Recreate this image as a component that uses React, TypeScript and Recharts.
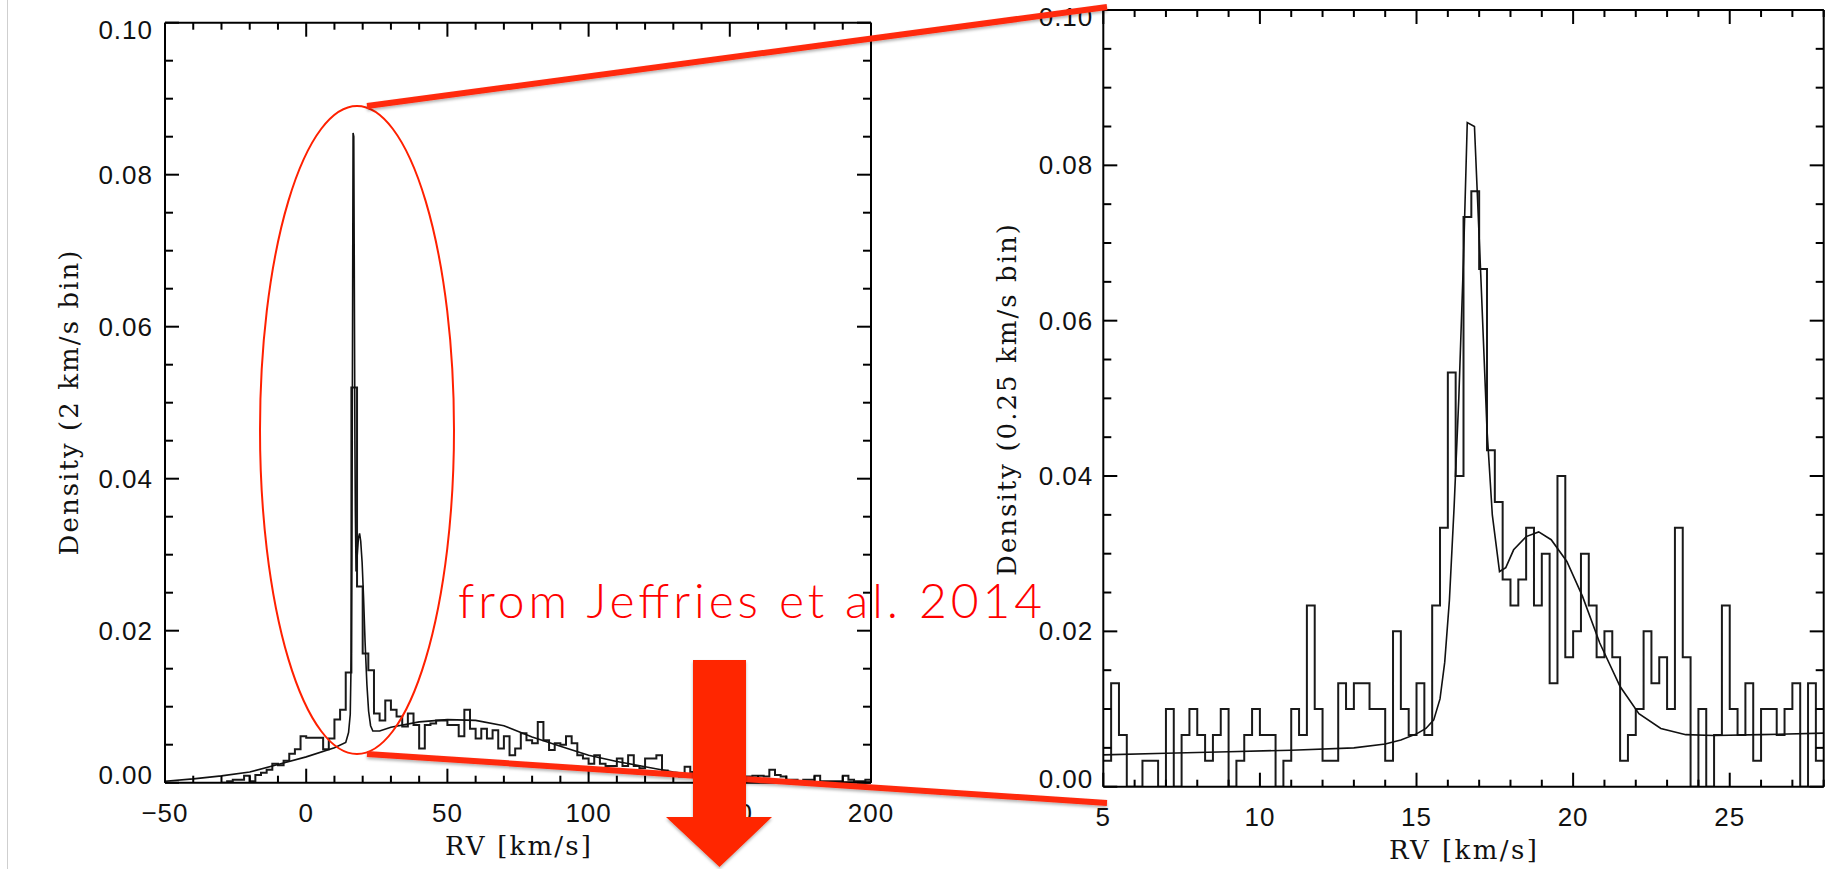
import React from "react"
import { ComposedChart, Line, XAxis, YAxis } from "recharts"

// ---- left panel: 2 km/s bins, first bin starts at -30 km/s ----
const LEFT_HIST_START = -30
const LEFT_BIN = 2
const LEFT_HIST = [
  0, 0.0002, 0.0004, 0.0004, 0.0009, 0.0002, 0.001, 0.0013, 0.0017, 0.0025,
  0.0023, 0.0029, 0.0038, 0.0044, 0.0061, 0.0059, 0.0059, 0.0059, 0.0044, 0.0058,
  0.0083, 0.0096, 0.0145, 0.052, 0.0258, 0.017, 0.0148, 0.0091, 0.0082, 0.0108,
  0.0096, 0.0087, 0.0074, 0.0091, 0.0076, 0.0045, 0.0076, 0.0078, 0.0082, 0.0082,
  0.0076, 0.0076, 0.0061, 0.0096, 0.0071, 0.0058, 0.0071, 0.0058, 0.0069, 0.0045,
  0.0061, 0.0036, 0.0045, 0.0065, 0.0056, 0.0052, 0.008, 0.0056, 0.0043, 0.0052,
  0.005, 0.0061, 0.0052, 0.0036, 0.0032, 0.0025, 0.0036, 0.0025, 0.0022, 0.0022,
  0.0032, 0.0022, 0.0036, 0.0022, 0.0019, 0.0032, 0.0032, 0.0036, 0.0016, 0.001,
  0.001, 0.0008, 0.0021, 0.0014, 0.001, 0.0008, 0.0012, 0.0006, 0.001, 0.0008,
  0.0006, 0.0008, 0.0006, 0.0008, 0.0009, 0.0009, 0.0008, 0.0017, 0.001, 0.0008,
  0.0004, 0.0004, 0.0002, 0.0004, 0.0004, 0.0009, 0.0002, 0.0002, 0.0002, 0.0002,
  0.0009, 0.0004, 0.0002, 0.0002, 0.0004,
]
const LEFT_MODEL_X = [
  -50, -40, -30, -20, -10, 0, 10, 14, 15, 15.6, 15.95, 16.15, 16.3, 16.45, 16.6, 16.85,
  17.05, 17.25, 17.4, 17.65, 17.9, 18.5, 18.9, 19.3, 19.8, 20.3, 20.85, 21.5, 22.1, 22.8,
  23.6, 26, 30, 40, 50, 60, 70, 80, 90, 100, 110, 120, 130, 140, 150, 160, 170, 185, 200,
]
const LEFT_MODEL_Y = [
  0.0002, 0.0005, 0.0009, 0.0014, 0.0024, 0.0034, 0.0046, 0.0053, 0.0066, 0.009, 0.017,
  0.03, 0.045, 0.065, 0.0855, 0.085, 0.065, 0.045, 0.036, 0.0278, 0.029, 0.0322, 0.0328,
  0.0318, 0.029, 0.0245, 0.0185, 0.0129, 0.0094, 0.0075, 0.0068, 0.0068, 0.0073, 0.008,
  0.0083, 0.0082, 0.0075, 0.006, 0.0048, 0.0036, 0.0028, 0.0021, 0.0014, 0.0009, 0.0005,
  0.0003, 0.0002, 0.0001, 0.0001,
]

// ---- right panel: 0.25 km/s bins from 5 km/s, counts in units of 1/300 ----
const RIGHT_HIST_START = 5
const RIGHT_BIN = 0.25
const RIGHT_UNIT = 1 / 300
const RIGHT_COUNTS = [
  1, 4, 2, 0, 0, 1, 1, 0, 3, 0,
  2, 3, 2, 1, 2, 3, 0, 1, 2, 3,
  2, 2, 0, 1, 3, 2, 7, 3, 1, 1,
  4, 3, 4, 4, 3, 3, 1, 6, 3, 2,
  4, 2, 7, 10, 16, 12, 22, 23, 20, 13,
  11, 8, 7, 8, 10, 7, 9, 4, 12, 5,
  6, 9, 7, 5, 6, 5, 1, 2, 3, 6,
  4, 5, 3, 10, 5, 0, 3, 0, 2, 7,
  3, 2, 4, 1, 3, 3, 2, 3, 4, 0,
  4, 1,
]
const RIGHT_MODEL_X = [
  5, 7, 9, 11, 13, 14, 14.5, 15, 15.3, 15.55, 15.75, 15.9, 16.05, 16.2, 16.35, 16.5, 16.62,
  16.85, 17.05, 17.25, 17.42, 17.65, 17.85, 18.1, 18.5, 18.9, 19.3, 19.8, 20.3, 20.85, 21.5,
  22.1, 22.8, 23.6, 24.5, 26, 28,
]
const RIGHT_MODEL_Y = [
  0.0041, 0.0043, 0.0045, 0.0047, 0.005, 0.0055, 0.006, 0.0068, 0.0075, 0.0086, 0.0113,
  0.016, 0.024, 0.036, 0.05, 0.068, 0.0855, 0.085, 0.066, 0.046, 0.035, 0.0277, 0.0282,
  0.0305, 0.0322, 0.0328, 0.0318, 0.029, 0.0245, 0.0185, 0.0129, 0.0094, 0.0075, 0.0067,
  0.0066, 0.0067, 0.0069,
]

const range = (a: number, b: number, s: number) => {
  const out: number[] = []
  const n = Math.round((b - a) / s)
  for (let i = 0; i <= n; i++) out.push(Math.round((a + i * s) * 1e6) / 1e6)
  return out
}

const LEFT_X_TICKS = range(-50, 200, 10)
const RIGHT_X_TICKS = range(5, 28, 1)
const Y_TICKS = range(0, 0.1, 0.005)

const leftXMajor = (v: number) => v % 50 === 0
const rightXMajor = (v: number) => v % 5 === 0
const yMajor = (v: number) => Math.abs(v / 0.02 - Math.round(v / 0.02)) < 1e-6

const steps = (start: number, bin: number, vals: number[]) => {
  const pts = vals.map((y, i) => ({ x: start + i * bin, y }))
  pts.push({ x: start + vals.length * bin, y: vals[vals.length - 1] })
  return pts
}
const zip = (xs: number[], ys: number[]) => xs.map((x, i) => ({ x, y: ys[i] }))

const leftHist = steps(LEFT_HIST_START, LEFT_BIN, LEFT_HIST)
const leftModel = zip(LEFT_MODEL_X, LEFT_MODEL_Y)
const rightHist = steps(RIGHT_HIST_START, RIGHT_BIN, RIGHT_COUNTS.map((c) => c * RIGHT_UNIT))
const rightModel = zip(RIGHT_MODEL_X, RIGHT_MODEL_Y)

const TICK_FONT = "'Liberation Sans', Arial, sans-serif"
const TITLE_FONT = "'DejaVu Serif', serif"
const AXIS_LINE = { stroke: "#000", strokeWidth: 2 }

const fmtX = (v: number) => (v < 0 ? "\u2212" + Math.abs(v) : String(v))

// axes are 1px thick boxes (recharts skips 0-sized axes); ticks drawn inward by hand
const xTick = (side: "top" | "bottom", isMajor: (v: number) => boolean) => (p: any) => {
  const v = p.payload.value
  const major = isMajor(v)
  const len = major ? 14 : 7
  const dir = side === "bottom" ? -1 : 1
  return (
    <g>
      <line x1={p.x} x2={p.x} y1={p.y} y2={p.y + dir * len} stroke="#000" strokeWidth={2} />
      {side === "bottom" && major && (
        <text x={p.x} y={p.y + 30} textAnchor="middle" dominantBaseline="central"
          fontFamily={TICK_FONT} fontSize={26} fill="#111" letterSpacing={1}>
          {fmtX(v)}
        </text>
      )}
    </g>
  )
}

const yTick = (side: "left" | "right", gap: number) => (p: any) => {
  const v = p.payload.value
  const major = yMajor(v)
  const len = major ? 14 : 8
  const dir = side === "left" ? 1 : -1
  const dy = v === 0 ? -8 : v >= 0.1 - 1e-9 ? 7 : 0
  return (
    <g>
      <line x1={p.x} x2={p.x + dir * len} y1={p.y} y2={p.y} stroke="#000" strokeWidth={2} />
      {side === "left" && major && (
        <text x={p.x - gap} y={p.y + dy} textAnchor="end" dominantBaseline="central"
          fontFamily={TICK_FONT} fontSize={26} fill="#111" letterSpacing={1}>
          {v.toFixed(2)}
        </text>
      )}
    </g>
  )
}

function Panel(props: {
  width: number
  height: number
  margin: { top: number; right: number; bottom: number; left: number }
  xDomain: [number, number]
  xTicks: number[]
  xMajor: (v: number) => boolean
  hist: { x: number; y: number }[]
  model: { x: number; y: number }[]
  labelGap: number
}) {
  const { width, height, margin, xDomain, xTicks, xMajor, hist, model, labelGap } = props
  const xCommon = {
    dataKey: "x",
    type: "number" as const,
    domain: xDomain,
    ticks: xTicks,
    interval: 0 as const,
    height: 1,
    tickSize: 0,
    tickMargin: 0,
    tickLine: false,
    axisLine: AXIS_LINE,
    allowDataOverflow: true,
  }
  const yCommon = {
    type: "number" as const,
    domain: [0, 0.1] as [number, number],
    ticks: Y_TICKS,
    interval: 0 as const,
    width: 1,
    tickSize: 0,
    tickMargin: 0,
    tickLine: false,
    axisLine: AXIS_LINE,
    allowDataOverflow: true,
  }
  const m = { top: margin.top - 1, right: margin.right - 1, bottom: margin.bottom - 1, left: margin.left - 1 }
  return (
    <ComposedChart width={width} height={height} margin={m}>
      <XAxis xAxisId="b" orientation="bottom" {...xCommon} tick={xTick("bottom", xMajor)} />
      <XAxis xAxisId="t" orientation="top" {...xCommon} tick={xTick("top", xMajor)} />
      <YAxis yAxisId="l" orientation="left" {...yCommon} tick={yTick("left", labelGap)} />
      <YAxis yAxisId="r" orientation="right" {...yCommon} tick={yTick("right", labelGap)} />
      <Line xAxisId="b" yAxisId="l" data={hist} dataKey="y" type="stepAfter" stroke="#1a1a1a"
        strokeWidth={2} dot={false} activeDot={false} isAnimationActive={false} />
      <Line xAxisId="b" yAxisId="l" data={model} dataKey="y" type="linear" stroke="#111"
        strokeWidth={1.6} dot={false} activeDot={false} isAnimationActive={false} />
    </ComposedChart>
  )
}

export default function App() {
  return (
    <div style={{ position: "absolute", left: 0, top: 0, width: 1827, height: 869, background: "#fff", overflow: "hidden" }}>
      <div style={{ position: "absolute", left: 7, top: 0, width: 1, height: 869, background: "#cfcfcf" }} />
      <div style={{ position: "absolute", left: 0, top: 0 }}>
        <Panel width={900} height={869}
          margin={{ top: 22.7, right: 29, bottom: 86.3, left: 165 }}
          xDomain={[-50, 200]} xTicks={LEFT_X_TICKS} xMajor={leftXMajor}
          hist={leftHist} model={leftModel} labelGap={12} />
      </div>
      <div style={{ position: "absolute", left: 940, top: 0 }}>
        <Panel width={887} height={869}
          margin={{ top: 10, right: 3.3, bottom: 82.3, left: 163.3 }}
          xDomain={[5, 28]} xTicks={RIGHT_X_TICKS} xMajor={rightXMajor}
          hist={rightHist} model={rightModel} labelGap={10} />
      </div>
      <svg width={1827} height={869} style={{ position: "absolute", left: 0, top: 0, pointerEvents: "none" }}>
        <defs>
          <filter id="shadow" x="-10%" y="-50%" width="120%" height="200%">
            <feDropShadow dx="0" dy="2" stdDeviation="1.6" floodColor="#000" floodOpacity="0.3" />
          </filter>
        </defs>
        <g fontFamily={TITLE_FONT} fontSize={26} fill="#111">
          <text x={518} y={846} textAnchor="middle" dominantBaseline="central" textLength={146}>RV [km/s]</text>
          <text x={1463} y={850} textAnchor="middle" dominantBaseline="central" textLength={148}>RV [km/s]</text>
          <text x={69} y={403} textAnchor="middle" dominantBaseline="central" textLength={305}
            transform="rotate(-90 69 403)">Density (2 km/s bin)</text>
          <text x={1007} y={400} textAnchor="middle" dominantBaseline="central" textLength={352}
            transform="rotate(-90 1007 400)">Density (0.25 km/s bin)</text>
        </g>
        <ellipse cx={357} cy={430} rx={97} ry={324} fill="none" stroke="#ff2000" strokeWidth={2} />
        <line x1={367} y1={106} x2={1107} y2={7} stroke="#ff2a10" strokeWidth={6} filter="url(#shadow)" />
        <line x1={367} y1={754} x2={1107} y2={803} stroke="#ff2a10" strokeWidth={6} filter="url(#shadow)" />
        <polygon points="693,660 746,660 746,817 772,817 719.5,867 666,817 693,817"
          fill="#ff2600" filter="url(#shadow)" />
        <text x={458} y={618} fontFamily="Lato, 'Open Sans', sans-serif" fontWeight={300}
          fontSize={48} fill="#ff0000" textLength={584}>
          from Jeffries et al. 2014
        </text>
      </svg>
    </div>
  )
}
